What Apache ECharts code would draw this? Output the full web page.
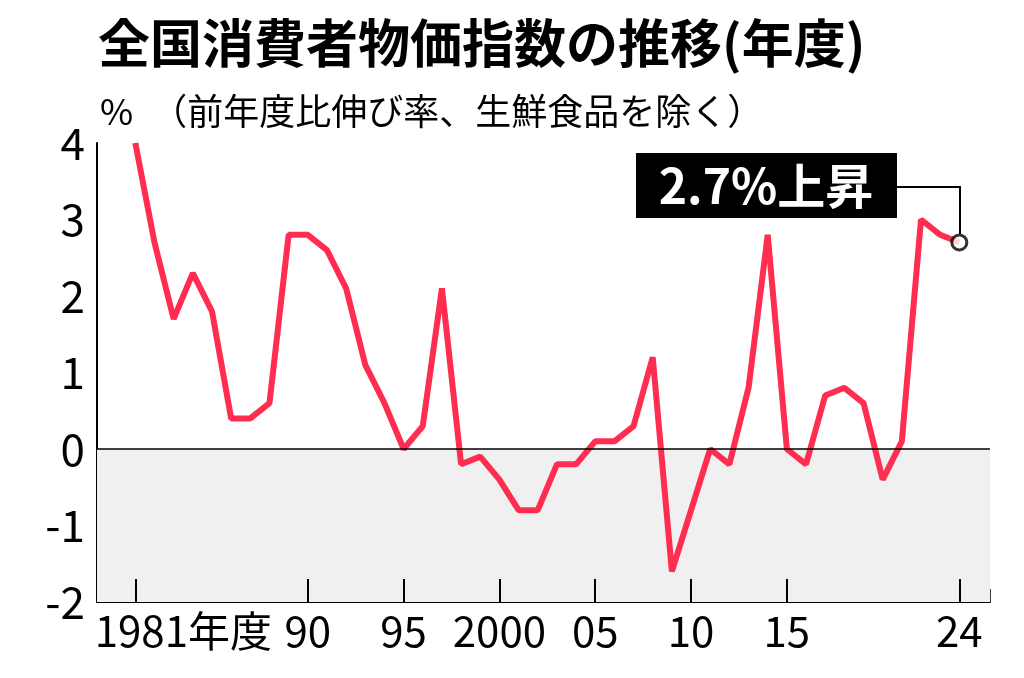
<!DOCTYPE html>
<html>
<head>
<meta charset="utf-8">
<script src="https://cdn.jsdelivr.net/npm/echarts@6/dist/echarts.min.js"></script>
<style>
  html, body { margin: 0; padding: 0; background: #fff; }
  #chart { width: 1024px; height: 678px; }
</style>
</head>
<body>
<div id="chart"></div>
<script>
const years = [1981, 1982, 1983, 1984, 1985, 1986, 1987, 1988, 1989, 1990,
  1991, 1992, 1993, 1994, 1995, 1996, 1997, 1998, 1999, 2000,
  2001, 2002, 2003, 2004, 2005, 2006, 2007, 2008, 2009, 2010,
  2011, 2012, 2013, 2014, 2015, 2016, 2017, 2018, 2019, 2020,
  2021, 2022, 2023, 2024]
const values = [4.0, 2.7, 1.7, 2.3, 1.8, 0.4, 0.4, 0.6, 2.8, 2.8,
  2.6, 2.1, 1.1, 0.6, 0.0, 0.3, 2.1, -0.2, -0.1, -0.4,
  -0.8, -0.8, -0.2, -0.2, 0.1, 0.1, 0.3, 1.2, -1.6, -0.8,
  0.0, -0.2, 0.8, 2.8, 0.0, -0.2, 0.7, 0.8, 0.6, -0.4,
  0.1, 3.0, 2.8, 2.7]
const labelYears = [1981, 1990, 1995, 2000, 2005, 2010, 2015, 2024]
const longTickYears = [1981, 1990, 1995, 2000, 2005, 2010, 2015, 2024]

const font = '"Noto Sans CJK JP", "Noto Sans", sans-serif'
const chart = echarts.init(document.getElementById('chart'))

const shortLabel = y => {
  if (y === 1981) return '{first|1981年度}'
  if (y === 2000) return '2000'
  return String(y % 100).padStart(2, '0')
}

const last = values.length - 1

chart.setOption({
  animation: false,
  textStyle: { fontFamily: font },
  title: [{
    text: '全国消費者物価指数の推移(年度)',
    left: 93, top: 12,
    textStyle: { fontSize: 52, fontWeight: 'bold', color: '#000', fontFamily: font }
  }, {
    text: '%　（前年度比伸び率、生鮮食品を除く）',
    left: 95, top: 88,
    textStyle: { fontSize: 36, fontWeight: 'normal', color: '#000', fontFamily: font }
  }],
  grid: { left: 97, right: 34, top: 143, bottom: 76 },
  xAxis: {
    type: 'value',
    min: 1979,
    max: 2025.6,
    interval: 1,
    splitLine: { show: false },
    axisLine: { show: true, onZero: false, lineStyle: { color: '#000', width: 2 } },
    axisTick: { show: true, inside: true, length: 13, lineStyle: { color: '#000', width: 1.5 } },
    axisLabel: {
      customValues: labelYears,
      formatter: shortLabel,
      color: '#000', fontSize: 42, margin: 8, fontFamily: font,
      rich: { first: { fontSize: 42, padding: [0, 0, 0, 96], fontFamily: font, color: '#000' } }
    }
  },
  yAxis: {
    type: 'value',
    min: -2, max: 4, interval: 1,
    axisLine: { show: true, lineStyle: { color: '#000', width: 2 } },
    axisTick: { show: false },
    splitLine: { show: false },
    axisLabel: { color: '#000', fontSize: 44, margin: 12, fontFamily: font }
  },
  series: [{
    type: 'line',
    data: years.map((y, i) => [y, values[i]]),
    symbol: 'none',
    lineStyle: { color: '#ff2d4f', width: 6 },
    z: 3,
    markArea: {
      silent: true,
      itemStyle: { color: '#f0f0f0' },
      data: [[{ yAxis: 0 }, { yAxis: -2 }]]
    },
    markLine: {
      silent: true, symbol: 'none', label: { show: false },
      lineStyle: { color: '#000', width: 1.5, type: 'solid' },
      data: [{ yAxis: 0 }].concat(longTickYears.map(y => [
        { coord: [y, -2], lineStyle: { width: 2 } },
        { coord: [y, -1.7] }
      ]))
    }
  }, {
    type: 'scatter',
    data: [[years[last], values[last]]],
    symbol: 'circle', symbolSize: 15,
    itemStyle: { color: '#fff', borderColor: '#000', borderWidth: 3 },
    z: 5
  }],
  graphic: [{
    type: 'polyline',
    shape: { points: [[897, 187], [960, 187], [960, 234]] },
    style: { stroke: '#000', lineWidth: 2, fill: null },
    z: 10
  }, {
    type: 'group', left: 636, top: 153, z: 10,
    children: [{
      type: 'rect', shape: { x: 0, y: 0, width: 261, height: 65 },
      style: { fill: '#000' }
    }, {
      type: 'text', x: 130, y: 33,
      style: { text: '2.7%上昇', fill: '#fff', fontSize: 48, fontWeight: 'bold', fontFamily: font, align: 'center', verticalAlign: 'middle' }
    }]
  }]
})
</script>
</body>
</html>
